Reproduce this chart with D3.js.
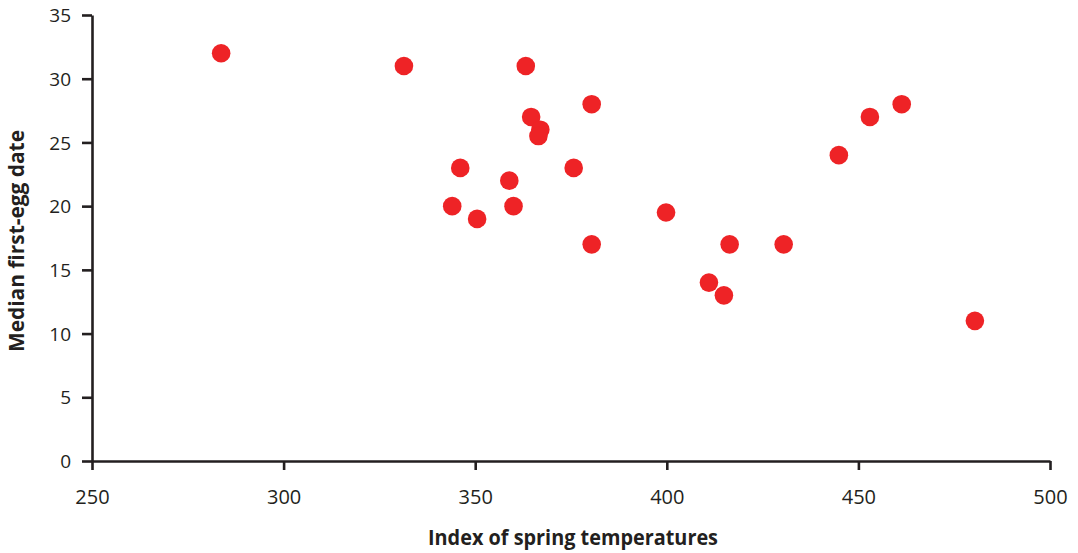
<!DOCTYPE html>
<html><head><meta charset="utf-8">
<script src="https://cdn.jsdelivr.net/npm/d3@7"></script>
<style>body{margin:0;background:#fff}</style>
</head><body>
<svg id="c" width="1078" height="553"></svg>
<script>
const xTicks = [250, 300, 350, 400, 450, 500];
const yTicks = [0, 5, 10, 15, 20, 25, 30, 35];
const tempIndex = [283.7, 331.4, 363.2, 380.4, 364.6, 367.0, 366.5, 346.1, 375.7, 358.9, 344.0, 360.0, 350.5, 380.4, 399.8, 416.4, 430.5, 411.0, 414.9, 444.9, 453.0, 461.3, 480.4];
const firstEgg  = [32, 31, 31, 28, 27, 26, 25.5, 23, 23, 22, 20, 20, 19, 17, 19.5, 17, 17, 14, 13, 24, 27, 28, 11];
const xTitle = "Index of spring temperatures";
const yTitle = "Median first-egg date";

const svg = d3.select("#c");
const x = d3.scaleLinear().domain([250, 500]).range([92, 1050]);
const y = d3.scaleLinear().domain([0, 35]).range([461, 15]);
const ink = "#231f20";

const gx = svg.append("g").attr("transform", "translate(0,461)")
  .call(d3.axisBottom(x).tickValues(xTicks).tickSize(9).tickSizeOuter(0).tickPadding(20));
const gy = svg.append("g").attr("transform", "translate(92,0)")
  .call(d3.axisLeft(y).tickValues(yTicks).tickSize(10).tickSizeOuter(0).tickPadding(11));
[gx, gy].forEach(g => {
  g.select(".domain").attr("stroke", ink).attr("stroke-width", 2.6);
  g.selectAll(".tick line").attr("stroke", ink).attr("stroke-width", 2.6);
  g.selectAll(".tick text").attr("fill", ink).style("font-family", "'Open Sans', sans-serif");
});
gx.selectAll(".tick text").style("font-size", "20px");
gy.selectAll(".tick text").style("font-size", "19px").attr("dy", "0.35em");

svg.append("g").selectAll("circle").data(tempIndex.map((t, i) => [t, firstEgg[i]]))
  .join("circle")
  .attr("cx", d => x(d[0])).attr("cy", d => y(d[1])).attr("r", 9.3)
  .attr("fill", "#ee2326");

svg.append("text").attr("x", 573).attr("y", 545).attr("text-anchor", "middle")
  .attr("textLength", 290).attr("lengthAdjust", "spacingAndGlyphs")
  .style("font-family", "'Open Sans', sans-serif")
  .style("font-weight", "bold").style("font-size", "21px").attr("fill", ink).text(xTitle);
svg.append("text").attr("transform", "translate(24,241) rotate(-90)").attr("text-anchor", "middle")
  .attr("textLength", 222).attr("lengthAdjust", "spacingAndGlyphs")
  .style("font-family", "'Open Sans', sans-serif")
  .style("font-weight", "bold").style("font-size", "21px").attr("fill", ink).text(yTitle);
</script>
</body></html>
